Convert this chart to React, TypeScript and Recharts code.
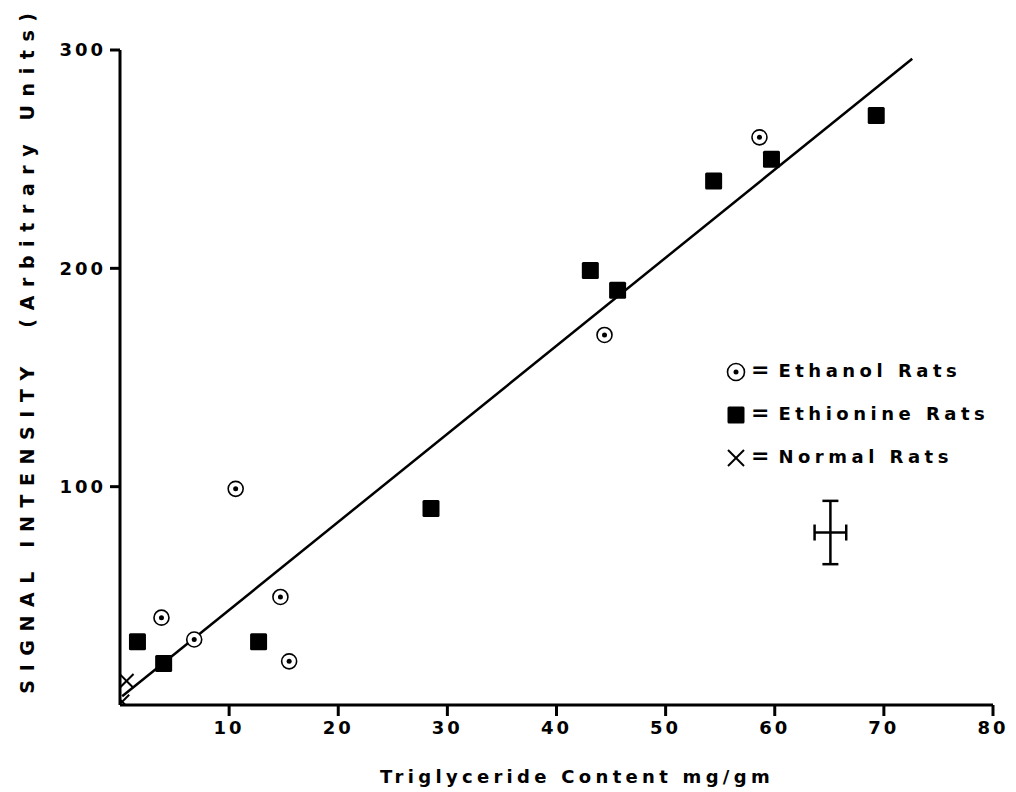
import React from "react";
import {
  ScatterChart,
  Scatter,
  XAxis,
  YAxis,
  ReferenceLine,
  ErrorBar,
} from "recharts";

const ethanolX = [3.8, 6.8, 10.6, 14.7, 15.5, 44.4, 58.6];
const ethanolY = [40, 30, 99, 49.5, 20, 169.5, 260];

const ethionineX = [1.6, 4.0, 12.7, 28.5, 43.1, 45.6, 54.4, 59.7, 69.3];
const ethionineY = [29, 19, 29, 90, 199, 190, 240, 250, 270];

const normalX = [0.6, 0.2];
const normalY = [11, 1.5];

const fitX = [0.2, 72.6];
const fitY = [4, 296];

const errX = [65.1];
const errY = [79];
const errDx = [1.45];
const errDy = [14.5];

const xTicks = [10, 20, 30, 40, 50, 60, 70, 80];
const yTicks = [100, 200, 300];

const legendLabels = ["Ethanol Rats", "Ethionine Rats", "Normal Rats"];

const FONT = '"DejaVu Sans", Verdana, sans-serif';

const ethanolData = ethanolX.map((x, i) => ({ x, y: ethanolY[i] }));
const ethionineData = ethionineX.map((x, i) => ({ x, y: ethionineY[i] }));
const normalData = normalX.map((x, i) => ({ x, y: normalY[i] }));
const errData = errX.map((x, i) => ({ x, y: errY[i], ex: errDx[i], ey: errDy[i] }));

function CircleDot(props: any) {
  const { cx, cy, r = 7.5 } = props;
  return (
    <g>
      <circle cx={cx} cy={cy} r={r} fill="#fff" stroke="#000" strokeWidth={1.6} />
      <circle cx={cx} cy={cy} r={2.5} fill="#000" />
    </g>
  );
}

function Square(props: any) {
  const { cx, cy, s = 17 } = props;
  return <rect x={cx - s / 2} y={cy - s / 2} width={s} height={s} rx={1.5} fill="#000" />;
}

function Cross(props: any) {
  const { cx, cy, s = 7 } = props;
  return (
    <g stroke="#000" strokeWidth={2}>
      <line x1={cx - s} y1={cy - s} x2={cx + s} y2={cy + s} />
      <line x1={cx - s} y1={cy + s} x2={cx + s} y2={cy - s} />
    </g>
  );
}

function NoDot() {
  return <g />;
}

function YTitle() {
  return (
    <text
      x={27}
      y={349}
      transform="rotate(-90 27 349)"
      textAnchor="middle"
      dominantBaseline="central"
      fontFamily={FONT}
      fontWeight={700}
      fontSize={19}
      letterSpacing={8.6}
      fill="#000"
    >
      SIGNAL INTENSITY{"\u00a0\u00a0"}(Arbitrary Units)
    </text>
  );
}

function XTitle() {
  return (
    <text
      x={577}
      y={783}
      textAnchor="middle"
      fontFamily={FONT}
      fontWeight={700}
      fontSize={18}
      letterSpacing={4.3}
      fill="#000"
    >
      Triglyceride Content mg/gm
    </text>
  );
}

const tickStyle = {
  fontFamily: FONT,
  fontWeight: 700,
  fontSize: 18,
  fill: "#000",
  letterSpacing: 3,
};

function LegendIcon({ kind }: { kind: number }) {
  return (
    <svg width={22} height={22} style={{ verticalAlign: "middle" }}>
      {kind === 0 && <CircleDot cx={11} cy={11} r={8.5} />}
      {kind === 1 && <Square cx={11} cy={11} s={17} />}
      {kind === 2 && <Cross cx={11} cy={11} s={8} />}
    </svg>
  );
}

export default function App() {
  return (
    <div style={{ position: "absolute", left: 0, top: 0, width: 1016, height: 792, background: "#fff" }}>
      <ScatterChart
        width={1016}
        height={792}
        margin={{ top: 50, right: 23, left: 0, bottom: 0 }}
      >
        <XAxis
          type="number"
          dataKey="x"
          domain={[0, 80]}
          ticks={xTicks}
          height={87}
          axisLine={{ stroke: "#000", strokeWidth: 3 }}
          tickLine={{ stroke: "#000", strokeWidth: 3 }}
          tickSize={11}
          tickMargin={5}
          tick={tickStyle}
          label={<XTitle />}
          allowDataOverflow
        />
        <YAxis
          type="number"
          dataKey="y"
          domain={[0, 300]}
          ticks={yTicks}
          width={120}
          axisLine={{ stroke: "#000", strokeWidth: 3 }}
          tickLine={{ stroke: "#000", strokeWidth: 3 }}
          tickSize={10}
          tickMargin={4}
          tick={tickStyle}
          label={<YTitle />}
          allowDataOverflow
        />
        <ReferenceLine
          segment={[
            { x: fitX[0], y: fitY[0] },
            { x: fitX[1], y: fitY[1] },
          ]}
          stroke="#000"
          strokeWidth={2.5}
          ifOverflow="visible"
        />
        <Scatter data={ethionineData} shape={<Square />} isAnimationActive={false} />
        <Scatter data={ethanolData} shape={<CircleDot />} isAnimationActive={false} />
        <Scatter data={normalData} shape={<Cross />} isAnimationActive={false} />
        <Scatter data={errData} shape={<NoDot />} isAnimationActive={false}>
          <ErrorBar dataKey="ey" direction="y" width={8} stroke="#000" strokeWidth={2.5} />
          <ErrorBar dataKey="ex" direction="x" width={8} stroke="#000" strokeWidth={2.5} />
        </Scatter>
      </ScatterChart>
      <div
        style={{
          position: "absolute",
          left: 725,
          top: 349,
          fontFamily: FONT,
          fontWeight: 700,
          fontSize: 18,
          letterSpacing: 4.5,
          lineHeight: "42px",
          color: "#000",
          whiteSpace: "nowrap",
        }}
      >
        {legendLabels.map((label, i) => (
          <div key={label}>
            <LegendIcon kind={i} />
            <span style={{ fontSize: 22, marginLeft: 4, marginRight: 9, letterSpacing: 0 }}>=</span>
            {label}
          </div>
        ))}
      </div>
    </div>
  );
}
